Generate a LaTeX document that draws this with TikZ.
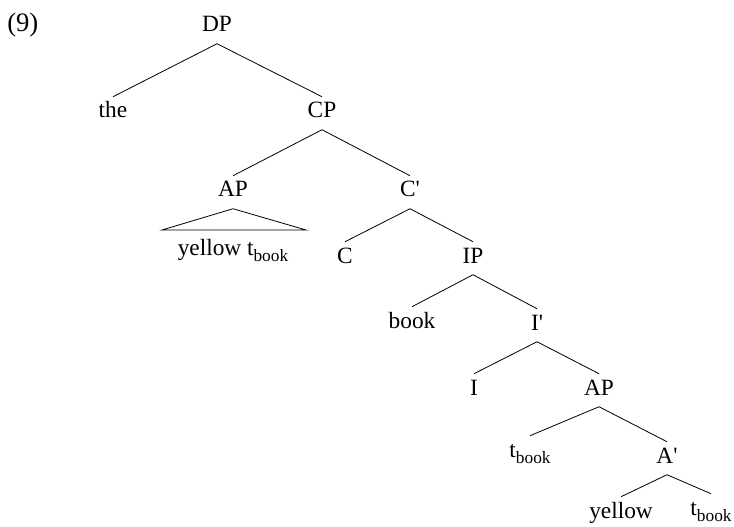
\documentclass[tikz,border=0pt]{standalone}
\usepackage{fontspec}
\setmainfont{Liberation Serif}
\usetikzlibrary{calc}
\newcommand{\tbook}{t\raisebox{-4.5pt}{\fontsize{13}{14}\selectfont book}}
\newcommand{\pr}{\textquotesingle}

\begin{document}
\begin{tikzpicture}[x=.75pt,y=-.75pt,
  lbl/.style={anchor=base, inner sep=0, text height=15.75pt, text depth=8.6pt,
    font=\fontsize{17.5}{20}\selectfont},
  br/.style={line width=.6pt}]
\useasboundingbox (0,0) rectangle (734,527);
\node[lbl, anchor=base west, font=\fontsize{20}{22}\selectfont] (ex) at (7,32) {(9)};
\node[lbl] (dp) at (217,32) {DP};
\node[lbl] (the) at (113,118) {the};
\node[lbl] (cp) at (322,118) {CP};
\node[lbl] (ap) at (233,197) {AP};
\node[lbl] (cbar) at (410,197) {C\pr};
\node[lbl] (yt) at (233,255) {yellow \tbook};
\node[lbl] (c) at (345,263) {C};
\node[lbl] (ip) at (473,263) {IP};
\node[lbl] (book) at (412,328) {book};
\node[lbl] (ibar) at (537,330) {I\pr};
\node[lbl] (i) at (474,395) {I};
\node[lbl] (aplow) at (599,395) {AP};
\node[lbl] (ta) at (530,457) {\tbook};
\node[lbl] (abar) at (667,463) {A\pr};
\node[lbl] (yel) at (621,518) {yellow};
\node[lbl] (tb) at (711,515) {\tbook};
\foreach \p/\q in {dp/the, dp/cp, cp/ap, cp/cbar, cbar/c, cbar/ip, ip/book, ip/ibar,
  ibar/i, ibar/aplow, aplow/ta, aplow/abar, abar/yel, abar/tb}
  \draw[br] (\p.south) -- (\q.north);
\coordinate (tril) at (162,230);
\coordinate (trir) at (306,230);
\draw[br] (ap.south) -- (tril) -- (trir) -- cycle;
\end{tikzpicture}
\end{document}
